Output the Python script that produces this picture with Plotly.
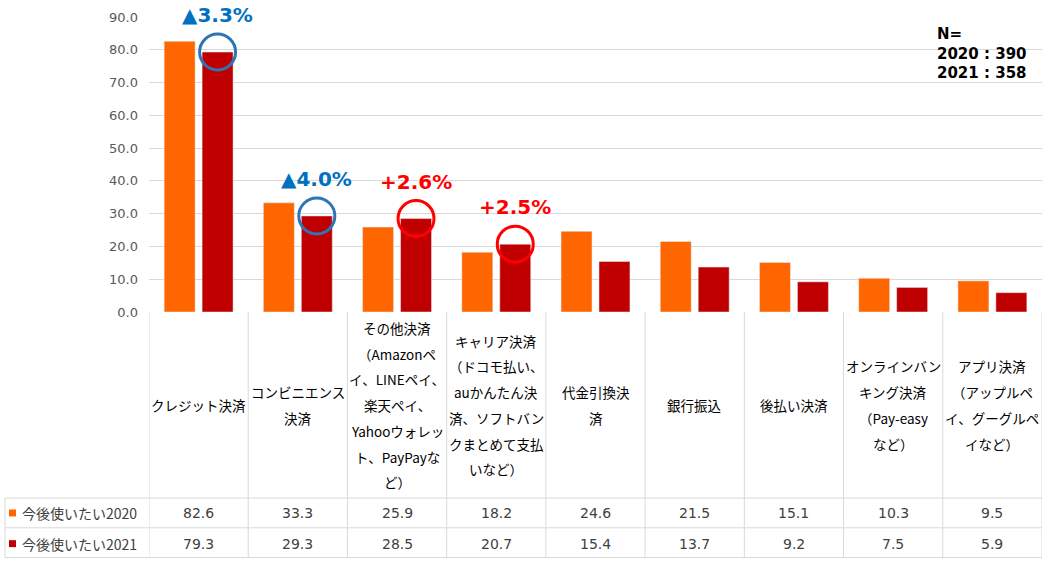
import plotly.graph_objects as go

# ---- data ----
categories = [
    "クレジット決済",
    "コンビニエンス<br>決済",
    "その他決済<br>（Amazonペ<br>イ、LINEペイ、<br>楽天ペイ、<br>Yahooウォレッ<br>ト、PayPayな<br>ど）",
    "キャリア決済<br>（ドコモ払い、<br>auかんたん決<br>済、ソフトバン<br>クまとめて支払<br>いなど）",
    "代金引換決<br>済",
    "銀行振込",
    "後払い決済",
    "オンラインバン<br>キング決済<br>（Pay-easy<br>など）",
    "アプリ決済<br>（アップルペ<br>イ、グーグルペ<br>イなど）",
]
series_names = ["今後使いたい2020", "今後使いたい2021"]
vals_2020 = [82.6, 33.3, 25.9, 18.2, 24.6, 21.5, 15.1, 10.3, 9.5]
vals_2021 = [79.3, 29.3, 28.5, 20.7, 15.4, 13.7, 9.2, 7.5, 5.9]
change_idx = [0, 1, 2, 3]
change_text = ["▲3.3%", "▲4.0%", "+2.6%", "+2.5%"]
y_ticks = [0, 10, 20, 30, 40, 50, 60, 70, 80, 90]
n_text = "N=<br>2020 : 390<br>2021 : 358"

# ---- styles ----
C2020 = "#FF6600"
C2021 = "#C00000"
BLUE_T = "#0070C0"
BLUE_C = "#2E75B6"
RED_T = "#FF0000"
change_text_colors = [BLUE_T, BLUE_T, RED_T, RED_T]
change_circle_colors = [BLUE_C, BLUE_C, RED_T, RED_T]
GRID = "#D9D9D9"
LATIN = "DejaVu Sans"
JP = "Noto Sans CJK JP"

W, H = 1052, 571
L, R, T, B = 149, 10, 14, 259
PW = W - L - R
PH = H - T - B
Y0PX = T + PH  # pixel y of value 0


def py(px):
    return (Y0PX - px) / PH


def pxp(px):
    return (px - L) / PW


bargap = 0.235
bargroupgap = 0.184
off = (1 - bargap) / 4

xs = list(range(len(categories)))

fig = go.Figure()
fig.add_trace(go.Bar(x=xs, y=vals_2020, name=series_names[0], marker_color=C2020))
fig.add_trace(go.Bar(x=xs, y=vals_2021, name=series_names[1], marker_color=C2021))
fig.add_trace(go.Scatter(
    x=[i + off for i in change_idx],
    y=[vals_2021[i] for i in change_idx],
    mode="markers",
    marker=dict(symbol="circle-open", size=36, color=change_circle_colors,
                line=dict(width=3, color=change_circle_colors)),
    cliponaxis=False,
    hoverinfo="skip",
))

annotations = []
shapes = []

# change labels
for k, i in enumerate(change_idx):
    annotations.append(dict(
        x=i + off, y=vals_2021[i], xref="x", yref="y", yshift=37,
        text=f"<b>{change_text[k]}</b>", showarrow=False,
        font=dict(family=LATIN, size=20, color=change_text_colors[k]),
        xanchor="center", yanchor="middle",
    ))

# N annotation
annotations.append(dict(
    x=pxp(935), y=py(51), xref="paper", yref="paper",
    text=f"<b>{n_text}</b>", showarrow=False, align="left",
    font=dict(family=LATIN, size=15, color="#000000"),
    xanchor="left", yanchor="middle",
))

# category labels (table header)
LINE_H = 26
CENTER = 406
for i, lab in enumerate(categories):
    lines = lab.split("<br>")
    n = len(lines)
    for j, ln in enumerate(lines):
        ypx = CENTER + (j - (n - 1) / 2) * LINE_H
        annotations.append(dict(
            x=i, y=py(ypx), xref="x", yref="paper", text=ln, showarrow=False,
            font=dict(family=JP, size=13.5, color="#000000"),
            xanchor="center", yanchor="middle",
        ))

# data rows
row_y = [515, 546]
row_vals = [vals_2020, vals_2021]
row_cols = [C2020, C2021]
for r in range(2):
    for i, v in enumerate(row_vals[r]):
        annotations.append(dict(
            x=i, y=py(row_y[r]), xref="x", yref="paper", text=f"{v:.1f}",
            showarrow=False, font=dict(family=LATIN, size=14, color="#404040"),
            xanchor="center", yanchor="middle",
        ))
    annotations.append(dict(
        x=pxp(20), y=py(row_y[r]), xref="paper", yref="paper", text=series_names[r],
        showarrow=False, font=dict(family=JP, size=14, color="#404040"),
        xanchor="left", yanchor="middle",
    ))
    shapes.append(dict(
        type="rect", xref="paper", yref="paper",
        x0=pxp(9), x1=pxp(16), y0=py(row_y[r] + 3.5), y1=py(row_y[r] - 3.5),
        fillcolor=row_cols[r], line=dict(width=0),
    ))

# table borders
for i in range(len(categories) + 1):
    shapes.append(dict(type="line", xref="x", yref="paper",
                       x0=i - 0.5, x1=i - 0.5, y0=py(560), y1=0,
                       line=dict(color=GRID, width=1)))
for ypx in [500, 530, 560]:
    shapes.append(dict(type="line", xref="paper", yref="paper",
                       x0=pxp(5), x1=1, y0=py(ypx), y1=py(ypx),
                       line=dict(color=GRID, width=1)))
shapes.append(dict(type="line", xref="paper", yref="paper",
                   x0=pxp(5), x1=pxp(5), y0=py(500), y1=py(560),
                   line=dict(color=GRID, width=1)))

fig.update_layout(
    width=W, height=H,
    margin=dict(l=L, r=R, t=T, b=B, pad=0),
    paper_bgcolor="white", plot_bgcolor="white",
    barmode="group", bargap=bargap, bargroupgap=bargroupgap,
    showlegend=False,
    annotations=annotations, shapes=shapes,
    xaxis=dict(range=[-0.5, len(categories) - 0.5], showgrid=False,
               showticklabels=False, zeroline=False, showline=False, ticks=""),
    yaxis=dict(range=[0, 90], tickvals=y_ticks, tickformat=".1f",
               showgrid=True, gridcolor=GRID, gridwidth=1, zeroline=False,
               showline=False, ticks="", ticklabelstandoff=10,
               tickfont=dict(family=LATIN, size=13, color="#595959")),
)

fig.write_html(
    "out.html",
    config={"displayModeBar": False},
    post_script="document.body.style.margin='0';document.body.style.overflow='hidden';",
)
